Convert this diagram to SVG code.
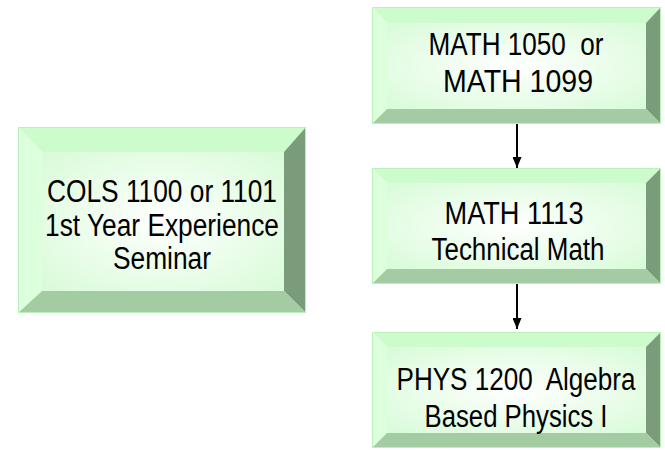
<svg xmlns="http://www.w3.org/2000/svg" width="665" height="450" viewBox="0 0 665 450">
<defs>
<radialGradient id="face" cx="50%" cy="50%" r="70%">
<stop offset="0" stop-color="#ffffff"/>
<stop offset="1" stop-color="#d8fbd8"/>
</radialGradient>
<marker id="ah" markerWidth="11" markerHeight="9" refX="11" refY="4.5" orient="auto" markerUnits="userSpaceOnUse">
<path d="M0,0 L11,4.5 L0,9 Z" fill="#000"/>
</marker>
<style>
.top{fill:#ccfccc}
.lft{fill:#dcffdc}
.rgt{fill:#7a9c7a}
.bot{fill:#a3cca3}
.face{fill:url(#face)}
.edge{fill:none;stroke:#b8f2b8;stroke-width:1}
text{font-family:"Liberation Sans Narrow","Liberation Sans",Arial,sans-serif;font-size:31px;fill:#000;text-anchor:middle}
.conn{stroke:#000;stroke-width:2;fill:none}
</style>
</defs>
<rect width="665" height="450" fill="#fff"/>

<g id="node-cols">
<polygon class="top" points="18,127 306,127 284,152 42,152"/>
<polygon class="lft" points="18,127 42,152 42,291 18,313"/>
<polygon class="rgt" points="306,127 306,313 284,291 284,152"/>
<polygon class="bot" points="18,313 42,291 284,291 306,313"/>
<rect class="face" x="42" y="152" width="242" height="139"/>
<rect class="edge" x="18.5" y="127.5" width="287" height="185"/>
<text x="162" y="202" textLength="230" lengthAdjust="spacingAndGlyphs">COLS 1100 or 1101</text>
<text x="162" y="236" textLength="234" lengthAdjust="spacingAndGlyphs">1st Year Experience</text>
<text x="162" y="269" textLength="98" lengthAdjust="spacingAndGlyphs">Seminar</text>
</g>

<g id="node-math1050">
<polygon class="top" points="372,7 661,7 646,23 387,23"/>
<polygon class="lft" points="372,7 387,23 387,109 372,124"/>
<polygon class="rgt" points="661,7 661,124 646,109 646,23"/>
<polygon class="bot" points="372,124 387,109 646,109 661,124"/>
<rect class="face" x="387" y="23" width="259" height="86"/>
<rect class="edge" x="372.5" y="7.5" width="288" height="116"/>
<text x="516" y="55" textLength="175" lengthAdjust="spacingAndGlyphs" xml:space="preserve">MATH 1050  or</text>
<text x="518" y="92" textLength="150" lengthAdjust="spacingAndGlyphs">MATH 1099</text>
</g>

<g id="node-math1113">
<polygon class="top" points="372,168 661,168 646,183 387,183"/>
<polygon class="lft" points="372,168 387,183 387,269 372,284"/>
<polygon class="rgt" points="661,168 661,284 646,269 646,183"/>
<polygon class="bot" points="372,284 387,269 646,269 661,284"/>
<rect class="face" x="387" y="183" width="259" height="86"/>
<rect class="edge" x="372.5" y="168.5" width="288" height="115"/>
<text x="514" y="224" textLength="139" lengthAdjust="spacingAndGlyphs">MATH 1113</text>
<text x="518" y="260" textLength="173" lengthAdjust="spacingAndGlyphs">Technical Math</text>
</g>

<g id="node-phys1200">
<polygon class="top" points="372,332 661,332 646,347 387,347"/>
<polygon class="lft" points="372,332 387,347 387,433 372,448"/>
<polygon class="rgt" points="661,332 661,448 646,433 646,347"/>
<polygon class="bot" points="372,448 387,433 646,433 661,448"/>
<rect class="face" x="387" y="347" width="259" height="86"/>
<rect class="edge" x="372.5" y="332.5" width="288" height="115"/>
<text x="516" y="390" textLength="239" lengthAdjust="spacingAndGlyphs" xml:space="preserve">PHYS 1200  Algebra</text>
<text x="516" y="427" textLength="183" lengthAdjust="spacingAndGlyphs">Based Physics I</text>
</g>

<g id="connectors">
<line class="conn" x1="517" y1="124" x2="517" y2="168" marker-end="url(#ah)"/>
<line class="conn" x1="517" y1="284" x2="517" y2="329" marker-end="url(#ah)"/>
</g>
</svg>
